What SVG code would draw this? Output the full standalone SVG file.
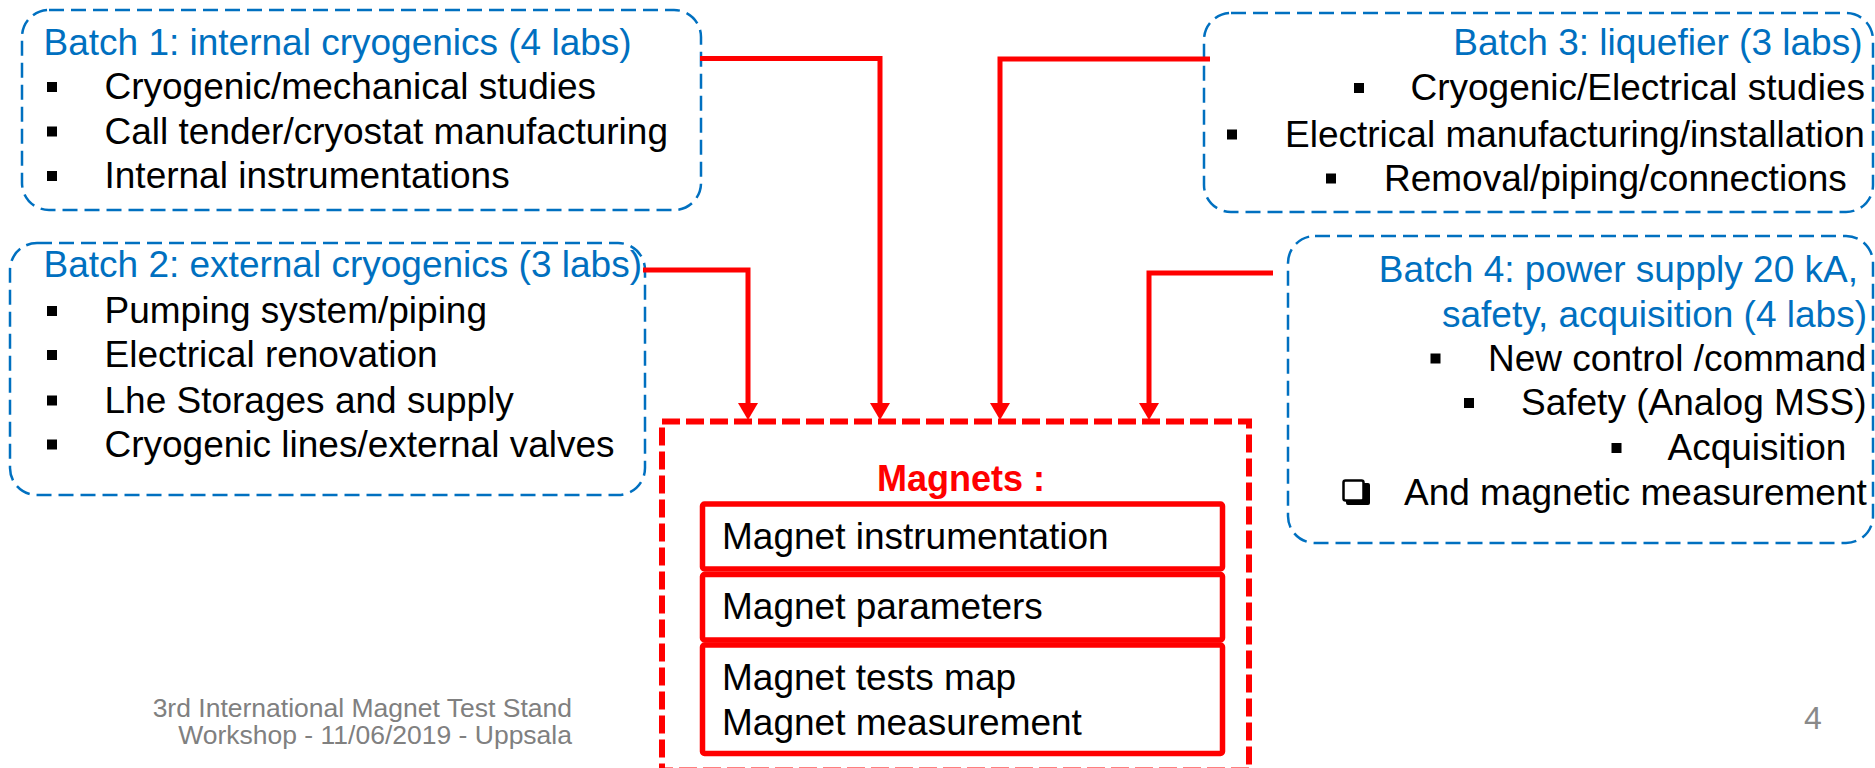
<svg xmlns="http://www.w3.org/2000/svg" width="1875" height="768" viewBox="0 0 1875 768">
<style>
.bg{fill:#ffffff}
.batch{fill:none;stroke:#0070C0;stroke-width:2.5;stroke-dasharray:15 7}
.t{font-family:"Liberation Sans",Arial,sans-serif;font-size:37px;fill:#000}
.title{font-family:"Liberation Sans",Arial,sans-serif;font-size:37px;fill:#0070C0}
.bul{fill:#000}
.conn{fill:none;stroke:#ff0000;stroke-width:5;stroke-linejoin:miter}
.mag{fill:none;stroke:#ff0000;stroke-width:6;stroke-dasharray:18 6}
.inner{fill:none;stroke:#ff0000;stroke-width:5.5}
.foot{font-family:"Liberation Sans",Arial,sans-serif;font-size:26.5px;fill:#808080}
</style>
<defs>
<marker id="arr" markerUnits="userSpaceOnUse" markerWidth="17" markerHeight="20" viewBox="0 0 17 20" refX="7" refY="10" orient="auto">
<path d="M0,0 L17,10 L0,20 z" fill="#ff0000"/>
</marker>
</defs>
<rect class="bg" x="0" y="0" width="1875" height="768"/>

<g id="batch1">
<rect class="batch" x="22" y="10" width="679" height="200" rx="27" ry="27"/>
<text class="title" x="43.5" y="55">Batch 1: internal cryogenics (4 labs)</text>
<rect class="bul" x="47" y="82" width="10" height="10"/>
<text class="t" x="104.5" y="99">Cryogenic/mechanical studies</text>
<rect class="bul" x="47" y="126.5" width="10" height="10"/>
<text class="t" x="104.5" y="143.5">Call tender/cryostat manufacturing</text>
<rect class="bul" x="47" y="171" width="10" height="10"/>
<text class="t" x="104.5" y="188">Internal instrumentations</text>
</g>

<g id="batch2">
<rect class="batch" x="10" y="243" width="635" height="252" rx="27" ry="27"/>
<text class="title" x="43.5" y="276.5">Batch 2: external cryogenics (3 labs)</text>
<rect class="bul" x="47" y="306" width="10" height="10"/>
<text class="t" x="104.5" y="323">Pumping system/piping</text>
<rect class="bul" x="47" y="350" width="10" height="10"/>
<text class="t" x="104.5" y="367">Electrical renovation</text>
<rect class="bul" x="47" y="395.5" width="10" height="10"/>
<text class="t" x="104.5" y="412.5">Lhe Storages and supply</text>
<rect class="bul" x="47" y="439.5" width="10" height="10"/>
<text class="t" x="104.5" y="456.5">Cryogenic lines/external valves</text>
</g>

<g id="batch3">
<rect class="batch" x="1204" y="13" width="669" height="199" rx="27" ry="27"/>
<text class="title" x="1862.5" y="55" text-anchor="end">Batch 3: liquefier (3 labs)</text>
<rect class="bul" x="1354" y="83" width="10" height="10"/>
<text class="t" x="1410.5" y="100">Cryogenic/Electrical studies</text>
<rect class="bul" x="1227" y="129.5" width="10" height="10"/>
<text class="t" x="1285" y="146.5">Electrical manufacturing/installation</text>
<rect class="bul" x="1326" y="173.5" width="10" height="10"/>
<text class="t" x="1384" y="190.5">Removal/piping/connections</text>
</g>

<g id="batch4">
<rect class="batch" x="1288" y="236" width="585" height="307" rx="27" ry="27"/>
<text class="title" x="1858" y="281.5" text-anchor="end">Batch 4: power supply 20 kA,</text>
<text class="title" x="1867" y="326.5" text-anchor="end">safety, acquisition (4 labs)</text>
<rect class="bul" x="1430.5" y="353.5" width="10" height="10"/>
<text class="t" x="1488" y="370.5">New control /command</text>
<rect class="bul" x="1464" y="398" width="10" height="10"/>
<text class="t" x="1521" y="415">Safety (Analog MSS)</text>
<rect class="bul" x="1611.5" y="443" width="10" height="10"/>
<text class="t" x="1667.5" y="460">Acquisition</text>
<path d="M1363,483 h5 a2,2 0 0 1 2,2 v18 a2,2 0 0 1 -2,2 h-20 a2,2 0 0 1 -2,-2 v-3 h17 z" fill="#000"/>
<rect x="1343.5" y="480.5" width="20" height="20" rx="2" fill="#fff" stroke="#000" stroke-width="2.5"/>
<text class="t" x="1404" y="505">And magnetic measurement</text>
</g>

<g id="magnets">
<rect class="mag" x="662" y="421.5" width="587" height="349"/>
<text x="961" y="490.5" text-anchor="middle" font-family="'Liberation Sans',Arial,sans-serif" font-size="36" font-weight="bold" fill="#ff0000">Magnets :</text>
<g id="magnet-instrumentation">
<rect class="inner" x="702.5" y="504" width="520" height="65" rx="2"/>
<text class="t" x="722" y="549">Magnet instrumentation</text>
</g>
<g id="magnet-parameters">
<rect class="inner" x="702.5" y="574.5" width="520" height="65.5" rx="2"/>
<text class="t" x="722" y="619">Magnet parameters</text>
</g>
<g id="magnet-tests">
<rect class="inner" x="702.5" y="645" width="520" height="108.5" rx="2"/>
<text class="t" x="722" y="690">Magnet tests map</text>
<text class="t" x="722" y="735">Magnet measurement</text>
</g>
</g>

<g id="connectors">
<polyline class="conn" points="700,58.5 880,58.5 880,410" marker-end="url(#arr)"/>
<polyline class="conn" points="643,270 748,270 748,410" marker-end="url(#arr)"/>
<polyline class="conn" points="1210,59 1000,59 1000,410" marker-end="url(#arr)"/>
<polyline class="conn" points="1273,273 1149,273 1149,410" marker-end="url(#arr)"/>
</g>

<g id="footer">
<text class="foot" x="572" y="716.5" text-anchor="end">3rd International Magnet Test Stand</text>
<text class="foot" x="572" y="744" text-anchor="end">Workshop - 11/06/2019 - Uppsala</text>
<text x="1804" y="729" font-family="'Liberation Sans',Arial,sans-serif" font-size="32" fill="#898989">4</text>
</g>
</svg>
